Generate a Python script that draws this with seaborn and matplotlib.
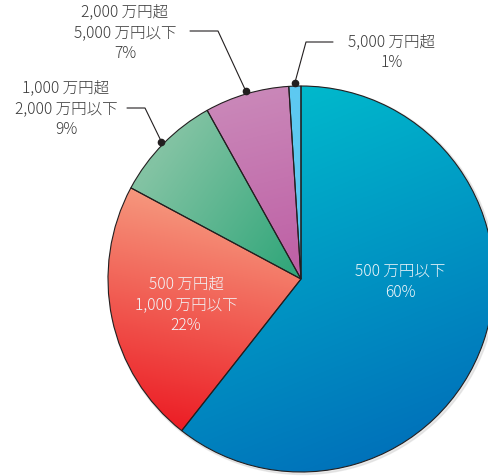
import numpy as np
import matplotlib
matplotlib.use("Agg")
import matplotlib.pyplot as plt
import seaborn as sns

# data (clockwise from 12 o'clock)
labels = ["500 万円以下", "500 万円超\n1,000 万円以下", "1,000 万円超\n2,000 万円以下",
          "2,000 万円超\n5,000 万円以下", "5,000 万円超"]
shares = [60, 22, 9, 7, 1]
pct_labels = [f"{v}%" for v in shares]

# gradient colours per slice (light -> dark)
grad_colors = [("#00b9cc", "#0071ba"), ("#f69b80", "#ec1c24"), ("#82c3a3", "#33a77b"),
               ("#ca88b9", "#be60a5"), ("#5dc9f1", "#5dc9f1")]

W, H = 489, 476
sns.set_theme(style="white")
plt.rcParams["font.family"] = ["Noto Sans CJK JP", "DejaVu Sans"]

def px(x, y):
    return x, H - y

fig = plt.figure(figsize=(W / 100, H / 100), dpi=100)
ax = fig.add_axes([0, 0, 1, 1])

cx, cy = px(301, 279)
R = 193

# soft shadow
ax.add_patch(plt.Circle((cx + 1.5, cy - 1.5), R + 1, color="#d0d0d0", alpha=0.45, zorder=0))

wedges, _ = ax.pie(shares, startangle=90, counterclock=False, center=(cx, cy), radius=R,
                   colors=[c[0] for c in grad_colors],
                   wedgeprops=dict(edgecolor="#231f20", linewidth=0.8, zorder=3))

# gradient fills clipped to each wedge
grad_dirs = [((300, 86), (440, 440)), ((220, 200), (170, 430)), ((150, 170), (290, 270)),
             ((250, 90), (295, 270)), ((290, 86), (300, 270))]
xs = np.linspace(cx - R, cx + R, 400)
ys = np.linspace(cy - R, cy + R, 400)
gx, gy = np.meshgrid(xs, ys)
for w, (c0, c1), (p0, p1) in zip(wedges, grad_colors, grad_dirs):
    x0, y0 = px(*p0)
    x1, y1 = px(*p1)
    d = np.array([x1 - x0, y1 - y0])
    t = ((gx - x0) * d[0] + (gy - y0) * d[1]) / (d @ d)
    t = np.clip(t, 0, 1)
    cmap = sns.blend_palette([c0, c1], as_cmap=True)
    im = ax.imshow(t, cmap=cmap, vmin=0, vmax=1, origin="lower",
                   extent=(cx - R, cx + R, cy - R, cy + R), zorder=2, interpolation="bilinear")
    im.set_clip_path(w)
    w.set_facecolor("none")

# inner labels
inner_pos = {0: (400, 282), 1: (186, 305)}
for i, (x, y) in inner_pos.items():
    ax.text(*px(x, y), labels[i] + "\n" + pct_labels[i], ha="center", va="center",
            color="#f2f6fa", fontsize=11.2, linespacing=1.3, fontweight="light", zorder=5)

# outer labels with leader lines
outer = {
    2: dict(elbow=(145, 108), end=127, text=(66, 109)),
    3: dict(elbow=(218, 31), end=190, text=(125, 33)),
    4: dict(elbow=(306, 42), end=333, text=(392, 52)),
}
for i, o in outer.items():
    w = wedges[i]
    mid = np.deg2rad((w.theta1 + w.theta2) / 2)
    dx, dy = cx + 196 * np.cos(mid), cy + 196 * np.sin(mid)
    ex, ey = px(*o["elbow"])
    ax.plot([dx, ex, o["end"]], [dy, ey, ey], color="#231f20", lw=0.8, zorder=6)
    ax.plot(dx, dy, "o", color="#231f20", ms=4.5, zorder=6)
    ax.text(*px(*o["text"]), labels[i] + "\n" + pct_labels[i], ha="center", va="center",
            color="#3a3a3a", fontsize=11.2, linespacing=1.3, fontweight="light", zorder=6)

ax.set_xlim(0, W)
ax.set_ylim(0, H)
ax.set_aspect("equal")
ax.axis("off")

fig.savefig("out.png", dpi=100)
